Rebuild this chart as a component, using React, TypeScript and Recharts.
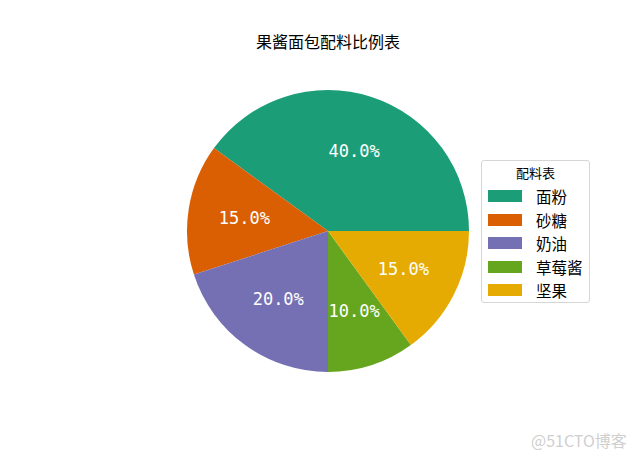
import React from 'react'
import { PieChart, Pie, Cell, Legend } from 'recharts'

// 果酱面包配料比例
const ingredients = ['面粉', '砂糖', '奶油', '草莓酱', '坚果']
const shares = [40, 15, 20, 10, 15]
const colors = ['#1b9e77', '#d95f02', '#7570b3', '#66a61e', '#e6ab02']

const chartTitle = '果酱面包配料比例表'
const legendTitle = '配料表'

const data = ingredients.map((name, i) => ({ name, value: shares[i] }))
const total = shares.reduce((a, b) => a + b, 0)

const RAD = Math.PI / 180
const cjk = '"Noto Sans CJK SC", "Noto Sans", sans-serif'

function PctLabel(props: any) {
  const { cx, cy, midAngle, outerRadius, value } = props
  const r = outerRadius * 0.6
  const x = cx + r * Math.cos(-midAngle * RAD)
  const y = cy + r * Math.sin(-midAngle * RAD)
  return (
    <text
      x={x}
      y={y}
      fill="#ffffff"
      textAnchor="middle"
      dominantBaseline="central"
      fontSize={17}
      fontFamily='"DejaVu Sans Mono", monospace'
    >
      {((value / total) * 100).toFixed(1)}%
    </text>
  )
}

function LegendBox() {
  return (
    <div
      style={{
        width: 109,
        height: 143,
        border: '1px solid #d6d6d6',
        borderRadius: 3,
        background: '#fff',
        boxSizing: 'border-box',
        fontFamily: cjk,
        position: 'relative',
      }}
    >
      <div style={{ position: 'absolute', top: 4, left: 0, width: '100%', textAlign: 'center', fontSize: 13, lineHeight: '16px' }}>
        {legendTitle}
      </div>
      {ingredients.map((name, i) => (
        <div key={name} style={{ position: 'absolute', left: 6, top: 27 + i * 23.5, height: 16, display: 'flex', alignItems: 'center' }}>
          <div style={{ width: 34, height: 12, background: colors[i] }} />
          <span style={{ marginLeft: 14, fontSize: 15.5, lineHeight: '16px', color: '#000' }}>{name}</span>
        </div>
      ))}
    </div>
  )
}

export default function App() {
  return (
    <div style={{ position: 'relative', width: 640, height: 459, background: '#fff', overflow: 'hidden' }}>
      <style>{'body{margin:0}'}</style>
      <div
        style={{
          position: 'absolute',
          top: 30,
          left: 0,
          width: 656,
          textAlign: 'center',
          fontFamily: cjk,
          fontSize: 16,
          lineHeight: '22px',
          color: '#000',
        }}
      >
        {chartTitle}
      </div>
      <PieChart width={640} height={459} margin={{ top: 0, right: 0, bottom: 0, left: 0 }}>
        <Pie
          data={data}
          dataKey="value"
          nameKey="name"
          cx={328}
          cy={231}
          outerRadius={141}
          startAngle={0}
          endAngle={360}
          stroke="none"
          labelLine={false}
          label={PctLabel}
          isAnimationActive={false}
        >
          {data.map((d, i) => (
            <Cell key={d.name} fill={colors[i]} />
          ))}
        </Pie>
        <Legend
          content={() => <LegendBox />}
          wrapperStyle={{ position: 'absolute', left: 481, top: 160, width: 109, height: 143 }}
        />
      </PieChart>
      <div
        style={{
          position: 'absolute',
          left: 531,
          top: 430,
          fontFamily: cjk,
          fontSize: 16,
          lineHeight: '20px',
          color: '#cfcfcf',
        }}
      >
        @51CTO博客
      </div>
    </div>
  )
}
